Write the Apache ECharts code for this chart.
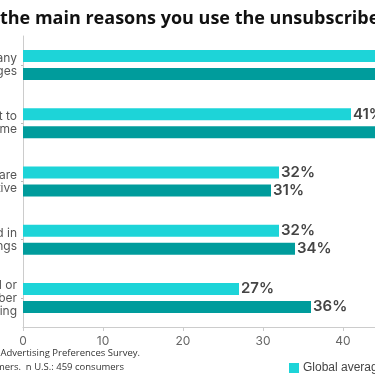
<!DOCTYPE html>
<html>
<head>
<meta charset="utf-8">
<script src="https://cdn.jsdelivr.net/npm/echarts@6/dist/echarts.min.js"></script>
<style>
  html, body { margin: 0; padding: 0; width: 375px; height: 375px; overflow: hidden; background: #fff; }
  #wrap { position: relative; width: 375px; height: 375px; overflow: hidden; }
  #chart { position: absolute; left: -150px; top: 0; width: 680px; height: 375px; }
</style>
</head>
<body>
<div id="wrap"><div id="chart"></div></div>
<script>
  const categories = [
    "Receive too many\nmessages",
    "Content isn't relevant to\nme",
    "Messages are\nrepetitive",
    "No longer interested in\nbrand offerings",
    "Never subscribed or\ndon't remember\nsubscribing",
  ];
  const seriesNames = ["Global average", "U.S."];
  const globalValues = [49, 41, 32, 32, 27];
  const usValues = [53, 46, 31, 34, 36];
  const xTicks = { min: 0, max: 60, interval: 10 };

  const chart = echarts.init(document.getElementById("chart"));

  //label shared by both series
  const valueLabel = {
    show: true,
    position: "right",
    distance: 2,
    formatter: "{c}%",
    color: "#444",
    fontSize: 15,
    fontWeight: 600,
    fontFamily: "Inter",
  };

  chart.setOption({
    animation: false,
    title: {
      text: "What are the main reasons you use the unsubscribe feature?",
      left: 58,
      top: 5,
      textStyle: {
        color: "#111",
        fontSize: 18,
        fontWeight: "bold",
        fontFamily: "Open Sans",
      },
    },
    legend: {
      data: seriesNames,
      left: 434,
      top: 357,
      itemWidth: 10,
      itemHeight: 10,
      itemGap: 20,
      icon: "rect",
      textStyle: { color: "#444", fontSize: 12, fontFamily: "Liberation Sans", padding: [0, 0, 0, -1] },
    },
    grid: { left: 173, top: 36, width: 480, bottom: 48 },
    xAxis: {
      type: "value",
      min: xTicks.min,
      max: xTicks.max,
      interval: xTicks.interval,
      splitLine: { show: false },
      axisLine: { show: true, lineStyle: { color: "#ccc" } },
      axisTick: { show: true, length: 4, lineStyle: { color: "#ccc" } },
      axisLabel: { color: "#666", fontSize: 12, margin: 8, fontFamily: "Inter" },
    },
    yAxis: {
      type: "category",
      inverse: true,
      data: categories,
      axisLine: { show: true, lineStyle: { color: "#ccc" } },
      axisTick: { show: true, alignWithLabel: true, length: 2, lineStyle: { color: "#bbb" } },
      axisLabel: { color: "#555", fontSize: 12, lineHeight: 13, margin: 6, fontFamily: "Inter" },
    },
    series: [
      {
        name: seriesNames[0],
        type: "bar",
        data: globalValues,
        barWidth: 12,
        barGap: "50%",
        itemStyle: { color: "#1dd4d8" },
        label: valueLabel,
      },
      {
        name: seriesNames[1],
        type: "bar",
        data: usValues,
        barWidth: 12,
        barGap: "50%",
        itemStyle: { color: "#009c9c" },
        label: valueLabel,
      },
    ],
    graphic: [
      {
        type: "text",
        x: 290,
        y: 353,
        style: {
          text: "Source: Kantar, 2019 Advertising Preferences Survey.",
          align: "right",
          verticalAlign: "middle",
          fill: "#333",
          fontSize: 9.5,
          fontFamily: "Open Sans",
        },
      },
      {
        type: "text",
        x: 274,
        y: 367,
        style: {
          text: "n Global: 11,636 consumers.  n U.S.: 459 consumers",
          align: "right",
          verticalAlign: "middle",
          fill: "#333",
          fontSize: 9.5,
          fontFamily: "Open Sans",
        },
      },
    ],
  });
</script>
</body>
</html>
